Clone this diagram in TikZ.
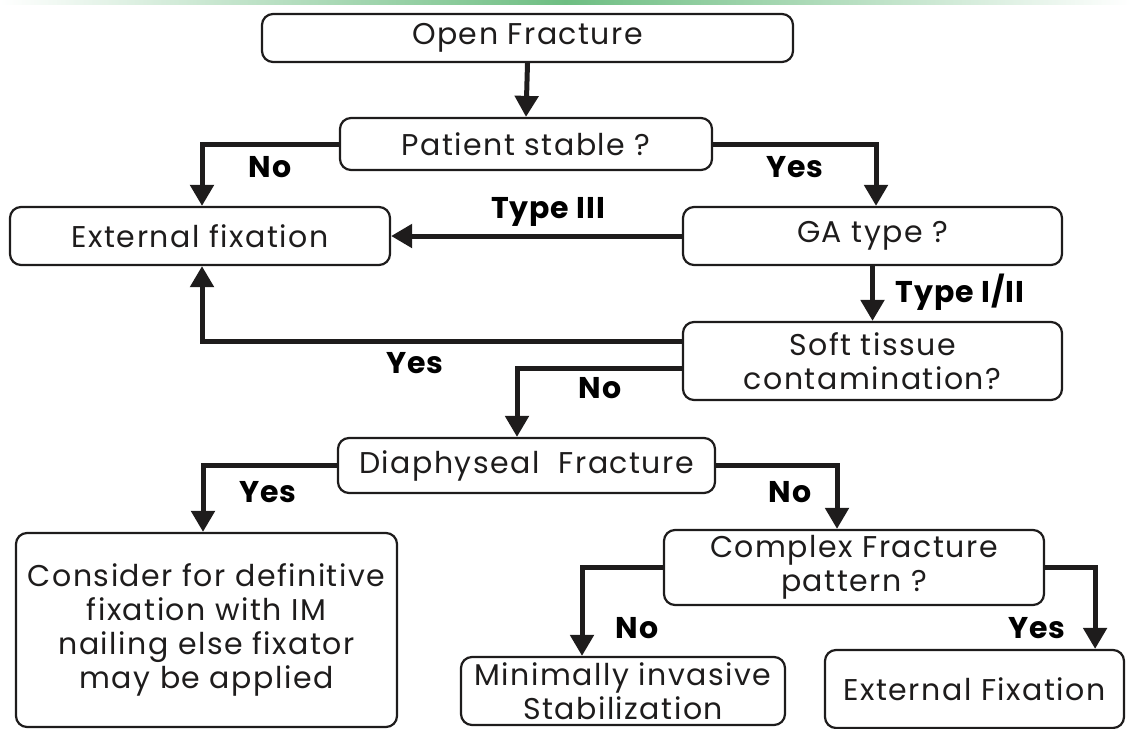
\documentclass[tikz,border=0pt]{standalone}
\usepackage{fontspec}
\setmainfont{Poppins}
\newfontfamily\boxfont[LetterSpace=5]{Poppins}
\newfontfamily\lblfont[LetterSpace=3]{Poppins Bold}
\usetikzlibrary{arrows.meta,calc}
\definecolor{ink}{RGB}{30,28,28}
\definecolor{topgreen}{RGB}{110,190,130}
\begin{document}
\begin{tikzpicture}[x=1pt,y=-1pt,
  box/.style={draw=ink,line width=2.2pt,rounded corners=11pt,align=center,
    font=\boxfont\fontsize{30}{34}\selectfont,text=ink,inner sep=0pt},
  conn/.style={draw=ink,line width=5pt,-{Triangle[width=23pt,length=21pt]}},
  lbl/.style={font=\lblfont\fontsize{30}{32}\selectfont,text=black,inner sep=0pt}]
\useasboundingbox (0,0) rectangle (1131,728);
\clip (0,0) rectangle (1131,728);
\shade[left color=white,right color=white,middle color=topgreen] (0,0) rectangle (1131,4);

\node[box,minimum width=531pt,minimum height=48pt] (open) at (527.5,38) {Open Fracture};
\node[box,minimum width=372pt,minimum height=52pt] (patient) at (526,144) {Patient stable ?};
\node[box,minimum width=380pt,minimum height=58pt] (extfix) at (200,236) {External fixation};
\node[box,minimum width=379pt,minimum height=58pt] (ga) at (872.5,236) {GA type ?};
\node[box,minimum width=379pt,minimum height=78pt] (soft) at (872.5,361) {Soft tissue\\contamination?};
\node[box,minimum width=377pt,minimum height=55pt] (diaph) at (526.5,465.5) {Diaphyseal\ \ Fracture};
\node[box,minimum width=381pt,minimum height=194pt] (consider) at (206.5,630) {Consider for definitive\\fixation with IM\\nailing else fixator\\may be applied};
\node[box,minimum width=380pt,minimum height=75pt] (complex) at (854,567.5) {Complex Fracture\\pattern ?};
\node[box,minimum width=324pt,minimum height=68pt] (minimal) at (623,691) {Minimally invasive\\Stabilization};
\node[box,minimum width=299pt,minimum height=78pt] (ef2) at (974.5,689) {External Fixation};

\draw[conn] (open.south) -- (patient.north);
\draw[conn] (patient.west) -| ([xshift=2pt]extfix.north);
\draw[conn] (patient.east) -| ([xshift=3.5pt]ga.north);
\draw[conn] (ga.west) -- (extfix.east);
\draw[conn] (ga.south) -- (soft.north);
\draw[conn] ([yshift=20pt]soft.west) -| ([xshift=2pt]extfix.south);
\draw[conn] ([yshift=-7pt]soft.west) -| ([xshift=-9.5pt]diaph.north);
\draw[conn] (diaph.west) -| ([xshift=-3.5pt]consider.north);
\draw[conn] (diaph.east) -| ([xshift=-17pt]complex.north);
\draw[conn] (complex.west) -| ([xshift=-41pt]minimal.north);
\draw[conn] (complex.east) -| ([xshift=-30pt]ef2.north east);

\node[lbl] (l1) at (270,167) {No};
\node[lbl] (l2) at (795,167) {Yes};
\node[lbl] (l3) at (548,212) {Type III};
\node[lbl] (l4) at (960,292) {Type I/II};
\node[lbl] (l5) at (415,363) {Yes};
\node[lbl] (l6) at (600,388) {No};
\node[lbl] (l7) at (268,492) {Yes};
\node[lbl] (l8) at (790,492) {No};
\node[lbl] (l9) at (637,628) {No};
\node[lbl] (l10) at (1037,628) {Yes};
\end{tikzpicture}
\end{document}
